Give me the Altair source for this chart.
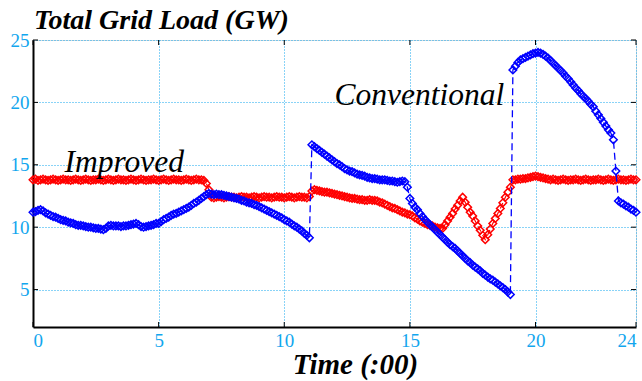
import altair as alt
import pandas as pd

# sampling grid (hours), 0.0 .. 24.0 in 0.1 steps
hours = [round(i / 10, 1) for i in range(241)]

conventional = [
    11.2, 11.25, 11.35, 11.4, 11.3, 11.15, 11.05, 10.95, 10.85, 10.8,
    10.7, 10.6, 10.55, 10.5, 10.4, 10.35, 10.3, 10.2, 10.15, 10.15,
    10.1, 10.05, 10.0, 10.0, 9.95, 9.9, 9.9, 9.85, 9.8, 9.9,
    10.1, 10.15, 10.1, 10.1, 10.1, 10.05, 10.1, 10.1, 10.15, 10.2,
    10.25, 10.3, 10.2, 10.05, 10.0, 10.05, 10.1, 10.15, 10.2, 10.3,
    10.3, 10.45, 10.6, 10.7, 10.8, 10.95, 11.05, 11.1, 11.2, 11.3,
    11.4, 11.5, 11.6, 11.75, 11.9, 12.0, 12.15, 12.3, 12.45, 12.6,
    12.7, 12.65, 12.6, 12.65, 12.6, 12.6, 12.55, 12.5, 12.45, 12.4,
    12.35, 12.3, 12.25, 12.15, 12.1, 12.0, 11.95, 11.9, 11.8, 11.75,
    11.65, 11.55, 11.45, 11.35, 11.25, 11.15, 11.05, 10.95, 10.85, 10.75,
    10.6, 10.5, 10.4, 10.25, 10.1, 10.0, 9.85, 9.7, 9.5, 9.35,
    9.15, 16.6, 16.45, 16.3, 16.15, 16.0, 15.85, 15.7, 15.55, 15.4,
    15.25, 15.1, 15.0, 14.85, 14.7, 14.6, 14.5, 14.45, 14.35, 14.25,
    14.2, 14.15, 14.1, 14.0, 13.95, 13.9, 13.9, 13.85, 13.8, 13.8,
    13.8, 13.75, 13.7, 13.7, 13.65, 13.6, 13.65, 13.7, 13.65, 13.2,
    12.3, 11.9, 11.6, 11.4, 11.1, 10.85, 10.6, 10.4, 10.2, 10.0,
    9.8, 9.6, 9.4, 9.2, 9.0, 8.8, 8.6, 8.45, 8.3, 8.1,
    7.9, 7.7, 7.5, 7.3, 7.15, 6.95, 6.8, 6.65, 6.5, 6.3,
    6.15, 6.0, 5.85, 5.75, 5.6, 5.45, 5.3, 5.15, 5.0, 4.8,
    4.6, 22.6, 22.9, 23.2, 23.4, 23.5, 23.6, 23.7, 23.8, 23.9,
    23.95, 24.0, 23.95, 23.85, 23.7, 23.55, 23.35, 23.15, 22.95, 22.75,
    22.55, 22.35, 22.1, 21.9, 21.65, 21.4, 21.15, 20.95, 20.7, 20.5,
    20.3, 20.1, 19.85, 19.65, 19.3, 19.0, 18.7, 18.4, 18.1, 17.8,
    17.55, 17.0, 14.5, 12.1, 11.95, 11.85, 11.7, 11.6, 11.45, 11.35,
    11.2,
]

improved = [
    13.8, 13.85, 13.75, 13.8, 13.85, 13.8, 13.75, 13.8, 13.85, 13.8,
    13.75, 13.8, 13.85, 13.8, 13.8, 13.75, 13.8, 13.85, 13.8, 13.75,
    13.8, 13.85, 13.8, 13.75, 13.8, 13.8, 13.85, 13.8, 13.75, 13.8,
    13.85, 13.8, 13.75, 13.8, 13.85, 13.8, 13.8, 13.75, 13.8, 13.85,
    13.8, 13.75, 13.8, 13.85, 13.8, 13.75, 13.8, 13.8, 13.85, 13.8,
    13.75, 13.8, 13.85, 13.8, 13.75, 13.8, 13.85, 13.8, 13.8, 13.75,
    13.8, 13.85, 13.8, 13.75, 13.8, 13.85, 13.8, 13.8, 13.75, 13.5,
    13.0, 12.4, 12.35, 12.4, 12.45, 12.4, 12.35, 12.4, 12.45, 12.4,
    12.4, 12.35, 12.4, 12.45, 12.4, 12.4, 12.35, 12.4, 12.45, 12.4,
    12.35, 12.4, 12.45, 12.4, 12.4, 12.35, 12.4, 12.45, 12.4, 12.4,
    12.35, 12.4, 12.45, 12.4, 12.35, 12.4, 12.45, 12.4, 12.4, 12.35,
    12.45, 12.9, 13.0, 12.95, 12.9, 12.85, 12.8, 12.8, 12.75, 12.7,
    12.65, 12.6, 12.55, 12.5, 12.45, 12.4, 12.35, 12.3, 12.3, 12.25,
    12.2, 12.2, 12.15, 12.15, 12.2, 12.15, 12.15, 12.1, 12.0, 11.95,
    11.85, 11.75, 11.65, 11.55, 11.5, 11.4, 11.3, 11.2, 11.15, 11.05,
    11.0, 10.9, 10.75, 10.65, 10.5, 10.4, 10.3, 10.2, 10.15, 10.1,
    10.0, 9.95, 9.9, 9.9, 10.2, 10.5, 10.8, 11.1, 11.45, 11.75,
    12.1, 12.4, 12.0, 11.6, 11.2, 10.9, 10.5, 10.1, 9.75, 9.35,
    9.0, 9.4, 9.85, 10.3, 10.7, 11.1, 11.5, 11.95, 12.4, 12.8,
    13.2, 13.8, 13.8, 13.85, 13.85, 13.9, 13.9, 13.95, 14.0, 14.05,
    14.1, 14.05, 14.0, 13.95, 13.9, 13.85, 13.8, 13.85, 13.8, 13.75,
    13.8, 13.85, 13.8, 13.75, 13.8, 13.8, 13.85, 13.8, 13.75, 13.8,
    13.85, 13.8, 13.75, 13.8, 13.8, 13.85, 13.8, 13.75, 13.8, 13.85,
    13.8, 13.75, 13.8, 13.85, 13.8, 13.8, 13.75, 13.8, 13.85, 13.8,
    13.8,
]

x_ticks = [0, 5, 10, 15, 20, 24]
y_ticks = [5, 10, 15, 20, 25]

labels = ["Improved", "Conventional"]
label_x = [1.25, 12.0]
label_y = [14.45, 19.8]

chart_title = "Total Grid Load (GW)"

SERIF = "Liberation Serif"
CYAN = "#12A6EE"
W, H = 603, 287

df_imp = pd.DataFrame({"t": hours, "v": improved})
df_con = pd.DataFrame({"t": hours, "v": conventional})
df_lab = pd.DataFrame({"label": labels, "t": label_x, "v": label_y})
df_xt = pd.DataFrame({"t": x_ticks})
df_yt = pd.DataFrame({"v": y_ticks})
df_title = pd.DataFrame({"txt": [chart_title]})

xscale = alt.Scale(domain=[0, 24], nice=False, zero=False)
yscale = alt.Scale(domain=[2, 25], nice=False, zero=False)

xaxis = alt.Axis(
    values=x_ticks, title="Time (:00)", grid=True, gridColor=CYAN, gridDash=[1, 2],
    gridWidth=1, ticks=False, domainColor="black", domainWidth=2,
    labelFont=SERIF, labelFontSize=19, labelColor=CYAN, labelPadding=4,
    titleFont=SERIF, titleFontSize=29, titleFontStyle="italic", titleFontWeight="bold",
    titleColor="black", titleBaseline="alphabetic", titleY=46, titleX=322,
)
yaxis = alt.Axis(
    values=y_ticks, title=None, grid=True, gridColor=CYAN, gridDash=[1, 2],
    gridWidth=1, ticks=False, domainColor="black", domainWidth=2,
    labelFont=SERIF, labelFontSize=19, labelColor=CYAN, labelPadding=4,
)

base_x = alt.X("t:Q", scale=xscale, axis=xaxis)
base_y = alt.Y("v:Q", scale=yscale, axis=yaxis)
px = alt.X("t:Q", scale=xscale)
py = alt.Y("v:Q", scale=yscale)

red_line = alt.Chart(df_imp).mark_line(color="#FF0000", strokeWidth=1.2, strokeDash=[6, 4]).encode(
    x=base_x, y=base_y)
red_pts = alt.Chart(df_imp).mark_point(shape="diamond", filled=False, color="#FF0000",
                                       size=58, strokeWidth=1.5, opacity=1).encode(x=px, y=py)
blue_line = alt.Chart(df_con).mark_line(color="#0000FF", strokeWidth=1.3, strokeDash=[7, 4]).encode(
    x=px, y=py)
blue_pts = alt.Chart(df_con).mark_point(shape="diamond", filled=False, color="#0000FF",
                                        size=58, strokeWidth=1.5, opacity=1).encode(x=px, y=py)

texts = alt.Chart(df_lab).mark_text(font=SERIF, fontSize=31.5, fontStyle="italic",
                                    align="left", baseline="alphabetic", color="black").encode(
    x=px, y=py, text="label:N")

title_mark = alt.Chart(df_title).mark_text(
    font=SERIF, fontSize=28, fontStyle="italic", fontWeight="bold", align="left",
    baseline="alphabetic", color="black").encode(
    x=alt.value(1), y=alt.value(-11), text="txt:N")

tick_b = alt.Chart(df_xt).mark_rule(color="black", strokeWidth=1).encode(
    x=px, y=alt.value(H), y2=alt.value(H - 5))
tick_t = alt.Chart(df_xt).mark_rule(color="black", strokeWidth=1).encode(
    x=px, y=alt.value(0), y2=alt.value(5))
tick_l = alt.Chart(df_yt).mark_rule(color="black", strokeWidth=1).encode(
    y=py, x=alt.value(0), x2=alt.value(5))
tick_r = alt.Chart(df_yt).mark_rule(color="black", strokeWidth=1).encode(
    y=py, x=alt.value(W), x2=alt.value(W - 5))

chart = alt.layer(
    red_line, red_pts, blue_line, blue_pts, texts, title_mark, tick_b, tick_t, tick_l, tick_r
).properties(
    width=W, height=H,
    autosize=alt.AutoSizeParams(type="none"),
    padding={"left": 33, "top": 40, "right": 6, "bottom": 54},
).configure_view(
    stroke="black", strokeWidth=1.5
).configure_axis(
    labelFont=SERIF
).configure(background="white")

chart.save("out.html", embed_options={"renderer": "svg", "actions": False})
